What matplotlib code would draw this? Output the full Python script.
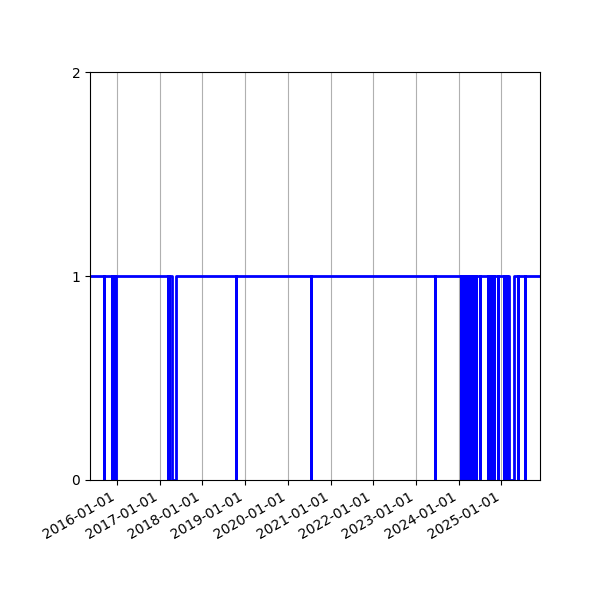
import pandas as pd
import matplotlib
matplotlib.use("Agg")
import matplotlib.pyplot as plt
import matplotlib.dates as mdates

# observed period
start_date = "2015-05-15"
end_date = "2025-11-27"

# periods where the status dropped to 0 (start, back-to-1)
dip_starts = [
    "2015-09-12",
    "2015-11-21", "2015-11-28", "2015-12-05", "2015-12-12", "2015-12-19", "2015-12-26",
    "2017-03-15", "2017-03-20",
    "2017-04-14",
    "2018-10-11",
    "2020-07-17",
    "2023-06-16",
    "2024-01-22", "2024-01-29", "2024-02-05", "2024-02-12", "2024-02-19", "2024-02-26",
    "2024-03-04", "2024-03-11", "2024-03-18", "2024-03-25", "2024-04-01", "2024-04-08",
    "2024-04-15", "2024-04-22", "2024-04-29", "2024-05-06", "2024-05-13", "2024-05-20",
    "2024-05-27",
    "2024-07-04", "2024-09-04", "2024-09-30", "2024-10-30", "2024-12-03",
    "2025-01-23", "2025-02-14", "2025-03-11", "2025-05-19", "2025-07-24",
]
dip_ends = [
    "2015-09-14",
    "2015-11-22", "2015-11-29", "2015-12-06", "2015-12-13", "2015-12-20", "2015-12-27",
    "2017-03-16", "2017-03-21",
    "2017-05-23",
    "2018-10-12",
    "2020-07-18",
    "2023-06-17",
    "2024-01-23", "2024-01-30", "2024-02-06", "2024-02-13", "2024-02-20", "2024-02-27",
    "2024-03-05", "2024-03-12", "2024-03-19", "2024-03-26", "2024-04-02", "2024-04-09",
    "2024-04-16", "2024-04-23", "2024-04-30", "2024-05-07", "2024-05-14", "2024-05-21",
    "2024-05-28",
    "2024-07-05", "2024-09-05", "2024-10-01", "2024-10-31", "2024-12-04",
    "2025-01-24", "2025-02-15", "2025-04-19", "2025-05-20", "2025-07-25",
]

dates = [start_date]
values = [1]
for s, e in zip(dip_starts, dip_ends):
    dates += [s, e]
    values += [0, 1]
dates.append(end_date)
values.append(1)
dates = pd.to_datetime(dates)

fig, ax = plt.subplots(figsize=(6, 6), dpi=100)
ax.step(dates, values, where="post", color="blue", linewidth=2)
ax.set_xlim(pd.Timestamp(start_date), pd.Timestamp(end_date))
ax.set_ylim(0, 2)
ax.set_yticks([0, 1, 2])
ax.xaxis.set_major_locator(mdates.YearLocator())
ax.xaxis.set_major_formatter(mdates.DateFormatter("%Y-%m-%d"))
ax.xaxis.grid(True)
fig.autofmt_xdate()
fig.subplots_adjust(left=0.15)
fig.savefig("out.png")
